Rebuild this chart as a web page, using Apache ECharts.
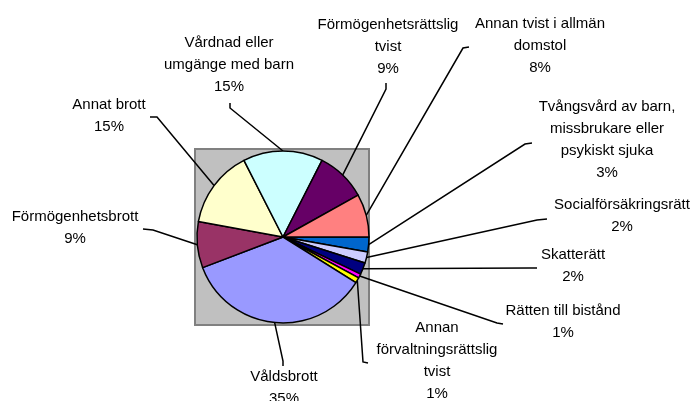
<!DOCTYPE html>
<html>
<head>
<meta charset="utf-8">
<script src="https://cdn.jsdelivr.net/npm/echarts@6/dist/echarts.min.js"></script>
<style>html,body{margin:0;padding:0;background:#fff}#c{width:697px;height:401px}</style>
</head>
<body>
<div id="c"></div>
<script>
// Categories (clockwise from 3 o'clock), with label line breaks
var categories = [
  "Tvångsvård av barn,\nmissbrukare eller\npsykiskt sjuka",
  "Socialförsäkringsrätt",
  "Skatterätt",
  "Rätten till bistånd",
  "Annan\nförvaltningsrättslig\ntvist",
  "Våldsbrott",
  "Förmögenhetsbrott",
  "Annat brott",
  "Vårdnad eller\numgänge med barn",
  "Förmögenhetsrättslig\ntvist",
  "Annan tvist i allmän\ndomstol"
];
// Shares in percent
var values = [2.8, 2.1, 2.2, 0.8, 1.0, 35.3, 8.7, 14.6, 15.0, 9.4, 8.1];
var colors = ["#0066CC", "#CCCCFF", "#000080", "#FF00FF", "#FFFF00", "#9999FF",
              "#993366", "#FFFFCC", "#CCFFFF", "#660066", "#FF8080"];

// Layout: label block anchor (top-centre) and leader line end points
var labelPos = [
  [607, 96], [622, 194], [573, 244], [563, 300], [437, 317], [284, 366],
  [75, 206], [109, 94], [229, 32], [388, 14], [540, 13]
];
var leaderEnds = [
  [[525, 144], [532, 143]],
  [[537, 220], [547, 219]],
  [[530, 268], [537, 268]],
  [[497, 323], [503, 324]],
  [[363, 362], [368, 363]],
  [[283, 361], [283, 366]],
  [[153, 230], [143, 229]],
  [[157, 117], [150, 117]],
  [[230, 108], [230, 103]],
  [[386, 89], [386, 83]],
  [[463, 48], [469, 47]]
];

var chart = echarts.init(document.getElementById('c'), null, {renderer: 'canvas'});
var data = categories.map(function (n, i) {
  return {name: n, value: values[i], itemStyle: {color: colors[i]}};
});
chart.setOption({
  backgroundColor: '#ffffff',
  animation: false,
  graphic: [{
    type: 'rect', z: -10,
    shape: {x: 195, y: 149, width: 174, height: 176},
    style: {fill: '#C0C0C0', stroke: '#808080', lineWidth: 2}
  }],
  series: [{
    type: 'pie',
    center: [283, 237],
    radius: 86,
    startAngle: 0,
    clockwise: true,
    avoidLabelOverlap: false,
    emphasis: {disabled: true},
    itemStyle: {borderColor: '#000', borderWidth: 1.5},
    data: data,
    label: {
      show: true,
      position: 'outside',
      color: '#000',
      fontFamily: 'Liberation Sans, Arial, sans-serif',
      fontSize: 15,
      lineHeight: 22,
      align: 'center',
      formatter: function (p) { return p.name + '\n' + Math.round(p.value) + '%'; }
    },
    labelLine: {show: true, lineStyle: {color: '#000', width: 1.5}},
    labelLayout: function (p) {
      var i = p.dataIndex;
      var pts = [p.labelLinePoints[0], leaderEnds[i][0], leaderEnds[i][1]];
      return {
        x: labelPos[i][0], y: labelPos[i][1],
        align: 'center', verticalAlign: 'top',
        labelLinePoints: pts
      };
    }
  }]
});
</script>
</body>
</html>
